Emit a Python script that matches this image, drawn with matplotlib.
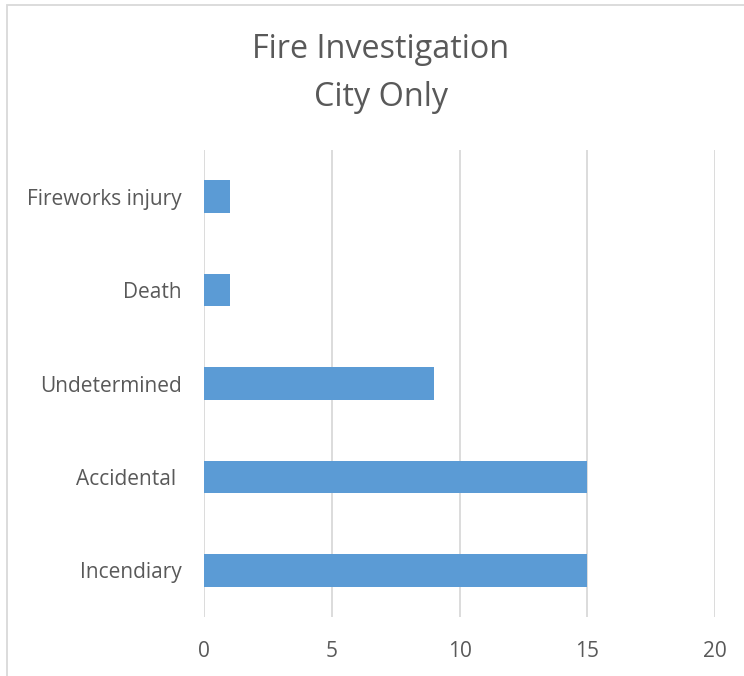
import matplotlib
matplotlib.use("Agg")
import matplotlib.pyplot as plt
from matplotlib.patches import Rectangle

categories = ["Incendiary", "Accidental ", "Undetermined", "Death", "Fireworks injury"]
values = [15, 15, 9, 1, 1]
xticks = [0, 5, 10, 15, 20]

fig = plt.figure(figsize=(7.44, 6.76), dpi=100)
fig.patch.set_facecolor("white")
W, H = 744, 676
ax = fig.add_axes([204 / W, 1 - 617 / H, (715 - 204) / W, (617 - 150) / H])

ax.barh(range(len(categories)), values, height=0.35, color="#5B9BD5", zorder=3)
ax.set_xlim(0, 20)
ax.set_ylim(-0.5, len(categories) - 0.5)
ax.set_xticks(xticks)
ax.set_xticklabels([str(t) for t in xticks])
ax.set_yticks(range(len(categories)))
ax.set_yticklabels(categories)
ax.grid(axis="x", color="#D9D9D9", linewidth=1.3, zorder=0)
for s in ax.spines.values():
    s.set_visible(False)
ax.tick_params(axis="both", length=0, colors="#595959", labelsize=15)
ax.tick_params(axis="x", pad=17)
ax.tick_params(axis="y", pad=16)
for lab in ax.get_xticklabels() + ax.get_yticklabels():
    lab.set_fontfamily("Open Sans")

fig.text(381 / W, 1 - 50 / H, "Fire Investigation", ha="center", va="center",
         fontsize=23.3, color="#595959", family="Open Sans")
fig.text(381 / W, 1 - 97 / H, "City Only", ha="center", va="center",
         fontsize=23.3, color="#595959", family="Open Sans")

# chart frame (partially cropped)
fig.add_artist(Rectangle((7 / W, -0.01), 1.0, 1 - 5 / H + 0.01, transform=fig.transFigure,
                         fill=False, edgecolor="#D9D9D9", linewidth=1.3))

fig.savefig("out.png", dpi=100)
